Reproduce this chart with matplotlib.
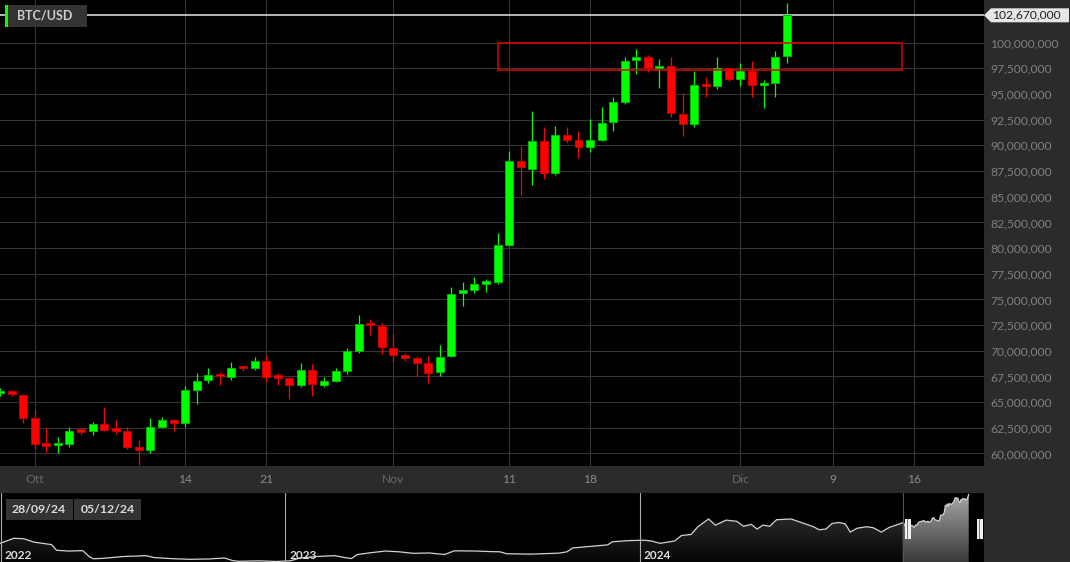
import numpy as np
import pandas as pd
import matplotlib
matplotlib.use('Agg')
import matplotlib.pyplot as plt
import matplotlib.dates as mdates
import matplotlib.transforms as mtransforms
from matplotlib import font_manager
from matplotlib.patches import Rectangle, Polygon
from matplotlib.colors import LinearSegmentedColormap

plt.rcParams['font.family'] = ['Lato', 'DejaVu Sans']

# pick a real bold face (Lato Bold may be missing)
bold_path = font_manager.findfont(font_manager.FontProperties(family='Lato', weight='bold'))
bold_family = 'Lato' if 'bold' in bold_path.lower() else 'Roboto'

W, H = 1070, 562

# daily candles BTC/USD (values in millions)
dates = pd.date_range('2024-09-28', '2024-12-05', freq='D')
opens = [65.85, 66.05, 65.74, 63.47, 60.95, 60.8, 60.88, 62.25, 62.14, 62.89,
         62.3, 62.2, 60.65, 60.32, 62.56, 63.3, 62.98, 66.16, 67.13, 67.68,
         67.46, 68.38, 68.37, 69.02, 67.45, 67.39, 66.65, 68.17, 66.7, 67.07,
         68.0, 69.95, 72.71, 72.45, 70.28, 69.56, 69.3, 68.82, 67.91, 69.46,
         75.63, 75.9, 76.5, 76.7, 80.33, 88.53, 87.74, 90.45, 87.3, 91.0,
         90.54, 89.83, 90.52, 92.26, 94.25, 98.34, 98.63, 97.53, 97.73, 93.07,
         92.07, 95.9, 95.77, 97.5, 96.48, 97.26, 95.85, 96.03, 98.7]
highs = [66.4, 66.2, 65.8, 64.28, 62.5, 61.6, 62.6, 62.46, 63.1, 64.54,
         63.3, 62.6, 61.36, 63.47, 63.6, 63.35, 66.55, 67.85, 68.33, 67.95,
         68.9, 68.6, 69.4, 69.63, 67.85, 67.45, 68.82, 68.72, 67.4, 68.33,
         70.26, 73.52, 73.1, 72.71, 71.64, 69.83, 69.46, 69.53, 70.6, 76.18,
         76.66, 77.2, 76.95, 81.47, 89.5, 89.96, 93.34, 91.76, 91.9, 91.76,
         91.4, 92.56, 93.74, 94.7, 98.63, 99.35, 98.8, 98.4, 98.63, 95.1,
         97.2, 96.65, 98.63, 97.55, 97.98, 98.2, 96.34, 99.18, 103.9]
lows = [65.6, 65.6, 62.99, 60.39, 60.13, 60.0, 60.6, 61.8, 61.8, 62.17,
        61.85, 60.4, 58.9, 60.07, 62.5, 62.17, 62.6, 64.86, 66.88, 66.7,
        67.2, 68.0, 68.1, 66.97, 66.7, 65.3, 66.45, 65.57, 66.5, 66.96,
        67.7, 69.8, 71.58, 69.73, 68.92, 69.0, 67.52, 66.88, 67.52, 69.4,
        74.4, 75.6, 75.7, 76.5, 80.23, 85.2, 86.1, 86.7, 87.07, 90.2,
        88.74, 89.4, 90.39, 91.4, 94.0, 97.0, 97.1, 95.58, 92.73, 90.95,
        91.8, 94.7, 95.45, 96.28, 95.8, 94.7, 93.68, 94.7, 98.0]
closes = [66.05, 65.75, 63.47, 60.97, 60.75, 60.9, 62.2, 62.1, 62.89, 62.27,
          62.2, 60.65, 60.32, 62.6, 63.3, 62.98, 66.16, 67.1, 67.65, 67.5,
          68.37, 68.3, 69.02, 67.46, 67.35, 66.7, 68.17, 66.75, 67.07, 68.0,
          69.95, 72.65, 72.48, 70.34, 69.63, 69.3, 68.82, 67.85, 69.4, 75.56,
          75.83, 76.49, 76.66, 80.33, 88.53, 87.89, 90.45, 87.3, 91.03, 90.54,
          89.83, 90.54, 92.23, 94.2, 98.24, 98.6, 97.5, 97.76, 93.13, 92.13,
          95.9, 95.75, 97.5, 96.48, 97.23, 95.9, 96.0, 98.63, 102.67]

# x axis labels
tick_dates = ['2024-10-01', '2024-10-14', '2024-10-21', '2024-11-01', '2024-11-11',
              '2024-11-18', '2024-12-01', '2024-12-09', '2024-12-16']
tick_labels = ['Ott', '14', '21', 'Nov', '11', '18', 'Dic', '9', '16']
y_ticks = [60, 62.5, 65, 67.5, 70, 72.5, 75, 77.5, 80, 82.5, 85, 87.5,
           90, 92.5, 95, 97.5, 100]

# red resistance box
box_start, box_end = '2024-11-10', '2024-12-15'
box_low, box_high = 97.3, 100.0

# navigator history before the candles
nav_hist_dates = ['2022-03-13', '2022-03-27', '2022-04-06', '2022-04-17', '2022-05-05',
                  '2022-05-10', '2022-05-22', '2022-06-06', '2022-06-13', '2022-06-17',
                  '2022-06-26', '2022-07-19', '2022-08-01', '2022-08-10', '2022-08-19',
                  '2022-09-08', '2022-09-24', '2022-10-14', '2022-10-30', '2022-11-08',
                  '2022-11-14', '2022-12-05', '2022-12-22', '2023-01-06', '2023-01-16',
                  '2023-02-03', '2023-02-21', '2023-03-03', '2023-03-10', '2023-03-16',
                  '2023-03-31', '2023-04-14', '2023-04-28', '2023-05-13', '2023-05-29',
                  '2023-06-14', '2023-06-24', '2023-07-16', '2023-07-31', '2023-08-10',
                  '2023-08-17', '2023-09-11', '2023-10-10', '2023-10-18', '2023-10-24',
                  '2023-11-15', '2023-11-29', '2023-12-04', '2023-12-21', '2024-01-06',
                  '2024-01-13', '2024-01-22', '2024-02-06', '2024-02-13', '2024-02-23',
                  '2024-03-01', '2024-03-12', '2024-03-19', '2024-03-30', '2024-04-10',
                  '2024-04-17', '2024-04-25', '2024-05-01', '2024-05-07', '2024-05-14',
                  '2024-05-21', '2024-06-05', '2024-06-19', '2024-06-28', '2024-07-04',
                  '2024-07-11', '2024-07-17', '2024-07-24', '2024-07-31', '2024-08-05',
                  '2024-08-12', '2024-08-22', '2024-08-29', '2024-09-06', '2024-09-14',
                  '2024-09-21']
nav_hist_vals = [39.5, 46.0, 45.5, 41.0, 37.8, 30.5, 29.5, 30.0, 22.0, 19.5,
                 20.0, 22.5, 23.0, 23.5, 21.0, 19.5, 18.8, 19.2, 20.5, 17.0,
                 16.2, 16.8, 16.0, 16.8, 20.5, 22.5, 23.5, 21.0, 19.8, 25.0,
                 27.5, 29.5, 28.5, 26.5, 27.0, 25.0, 29.8, 29.5, 28.8, 28.5,
                 26.0, 25.5, 26.8, 28.5, 33.5, 36.0, 37.5, 41.5, 43.0, 43.5,
                 42.5, 39.5, 42.5, 49.5, 51.0, 61.0, 71.0, 63.0, 69.5, 68.0,
                 61.5, 64.0, 58.0, 63.0, 61.5, 70.0, 71.0, 65.0, 61.0, 57.0,
                 58.0, 65.0, 66.5, 64.5, 54.0, 59.0, 61.0, 59.5, 54.0, 60.0,
                 63.0]
year_starts = ['2023-01-01', '2024-01-01']


def fig_rect(x, y, w, h, **kw):
    # rectangle given in pixels from the top-left corner
    fig.add_artist(Rectangle((x / W, 1 - (y + h) / H), w / W, h / H,
                             transform=fig.transFigure, **kw))


fig = plt.figure(figsize=(W / 100, H / 100), dpi=100, facecolor='#2b2b2b')

# main chart
ax = fig.add_axes([0, 96 / H, 984 / W, 466 / H], facecolor='black')
xd = mdates.date2num(dates)
px_day = 11.57
ax.set_xlim(xd[0], xd[0] + 984 / px_day)
ax.set_ylim(58.78, 104.16)

o = np.array(opens)
c = np.array(closes)
up = c >= o
cols = np.where(up, '#00ff00', '#ff0000')
edges = np.where(up, '#00b800', '#c40000')
ax.vlines(xd, lows, highs, colors=cols, lw=0.9, zorder=3)
body_h = np.maximum(np.abs(c - o), 0.25)
ax.bar(xd, body_h, bottom=np.minimum(o, c), width=0.69, color=cols,
       edgecolor=edges, lw=0.7, zorder=4)

bx0 = mdates.date2num(pd.Timestamp(box_start))
bx1 = mdates.date2num(pd.Timestamp(box_end))
ax.add_patch(Rectangle((bx0, box_low), bx1 - bx0, box_high - box_low,
                       fill=False, ec='#e00000', lw=1.1, zorder=5))

ax.axhline(closes[-1], color='#e6e6e6', lw=1.1, zorder=2)

ax.set_xticks(mdates.date2num(pd.to_datetime(tick_dates)))
ax.set_xticklabels(tick_labels)
ax.set_yticks(y_ticks)
ax.set_yticklabels(['{:,.0f}'.format(v * 1e6) for v in y_ticks])
ax.grid(True, color='#353535', lw=0.8, zorder=0)
ax.set_axisbelow(True)
ax.yaxis.tick_right()
ax.tick_params(axis='y', length=0, pad=4.3, labelsize=8.7, labelcolor='#808080')
ax.tick_params(axis='x', length=0, pad=6, labelsize=8.7)
for lbl in ax.get_xticklabels():
    lbl.set_color('#6a6a6a' if lbl.get_text() in ('Ott', 'Nov', 'Dic') else '#8a8a8a')
for s in ax.spines.values():
    s.set_visible(False)

# ticker box top left
fig_rect(4.7, 5, 82.3, 21.7, fc='#333333', ec='none')
fig_rect(4.7, 5, 3.3, 21.7, fc='#00ff00', ec='none')
fig.text(17 / W, 1 - 16 / H, 'BTC/USD', color='#cfcfcf', fontsize=9,
         family=bold_family, fontweight='bold', va='center', ha='left')

# last price tag
yp = ax.transData.transform((xd[0], closes[-1]))[1]
tag = Polygon([(984, yp), (991, yp + 7), (1069, yp + 7), (1069, yp - 7), (991, yp - 7)],
              closed=True, fc='#e6e6e6', ec='none', transform=mtransforms.IdentityTransform())
fig.add_artist(tag)
fig.text(1026 / W, yp / H, '{:,.0f}'.format(closes[-1] * 1e6), color='#222222',
         fontsize=8.7, ha='center', va='center')

# navigator
nav = fig.add_axes([0, 0, 984 / W, 69 / H], facecolor='black')
nav_px_day = 0.9704
n0 = mdates.date2num(pd.Timestamp('2023-01-01')) - 285.5 / nav_px_day
n1 = n0 + 984 / nav_px_day
ylo, yhi = 15.3, 104.6
nav_x = np.r_[mdates.date2num(pd.to_datetime(nav_hist_dates)), xd]
nav_y = np.r_[nav_hist_vals, closes]

grad = np.linspace(1, 0, 256).reshape(-1, 1)
dark = LinearSegmentedColormap.from_list('dark', ['#050505', '#3c3c3c'])
light = LinearSegmentedColormap.from_list('light', ['#3a3a3a', '#a8a8a8'])

poly = Polygon(np.column_stack([np.r_[nav_x[0], nav_x, nav_x[-1]],
                                np.r_[ylo, nav_y, ylo]]), closed=True, fc='none', ec='none')
nav.add_patch(poly)
im = nav.imshow(grad, cmap=dark, extent=[n0, n1, ylo, yhi], aspect='auto', origin='upper')
im.set_clip_path(poly)

sel = nav_x >= xd[0]
sx, sy = nav_x[sel], nav_y[sel]
poly2 = Polygon(np.column_stack([np.r_[sx[0], sx, sx[-1]], np.r_[ylo, sy, ylo]]),
                closed=True, fc='none', ec='none')
nav.add_patch(poly2)
im2 = nav.imshow(grad, cmap=light, extent=[n0, n1, ylo, yhi], aspect='auto', origin='upper')
im2.set_clip_path(poly2)

nav.plot(nav_x, nav_y, color='#d2d2d2', lw=0.9)
nav.axvline(n0 + 1 / nav_px_day, color='#aaaaaa', lw=0.8)
for d in year_starts:
    nav.axvline(mdates.date2num(pd.Timestamp(d)), color='#aaaaaa', lw=0.8)
nav.axvline(xd[0], color='#555555', lw=0.8)
nav.set_xlim(n0, n1)
nav.set_ylim(ylo, yhi)
nav.set_xticks([])
nav.set_yticks([])
for s in nav.spines.values():
    s.set_visible(False)

# year labels
for d, lab in zip([mdates.num2date(n0)] + list(pd.to_datetime(year_starts)), ['2022', '2023', '2024']):
    xpix = nav.transData.transform((mdates.date2num(d), ylo))[0]
    fig.text((xpix + 4) / W, 1 - 555.5 / H, lab, color='#dedede', fontsize=8.6,
             family=bold_family, fontweight='bold', ha='left', va='center')

# range boxes
fig_rect(6, 499, 66.5, 20.5, fc='#333333', ec='none')
fig_rect(74, 499, 67, 20.5, fc='#333333', ec='none')
fig.text(39 / W, 1 - 509.5 / H, dates[0].strftime('%d/%m/%y'), color='#dcdcdc',
         fontsize=8.8, family=bold_family, fontweight='bold', ha='center', va='center')
fig.text(107.5 / W, 1 - 509.5 / H, dates[-1].strftime('%d/%m/%y'), color='#dcdcdc',
         fontsize=8.8, family=bold_family, fontweight='bold', ha='center', va='center')

# selection handles
hx0 = nav.transData.transform((xd[0], ylo))[0]
for hx in [hx0 + 2.5, 977]:
    fig_rect(hx, 518.6, 5.5, 20.7, fc='#f0f0f0', ec='none')
    fig_rect(hx + 2.3, 518.6, 1, 20.7, fc='#777777', ec='none')

fig.savefig('out.png', dpi=100, facecolor=fig.get_facecolor())
